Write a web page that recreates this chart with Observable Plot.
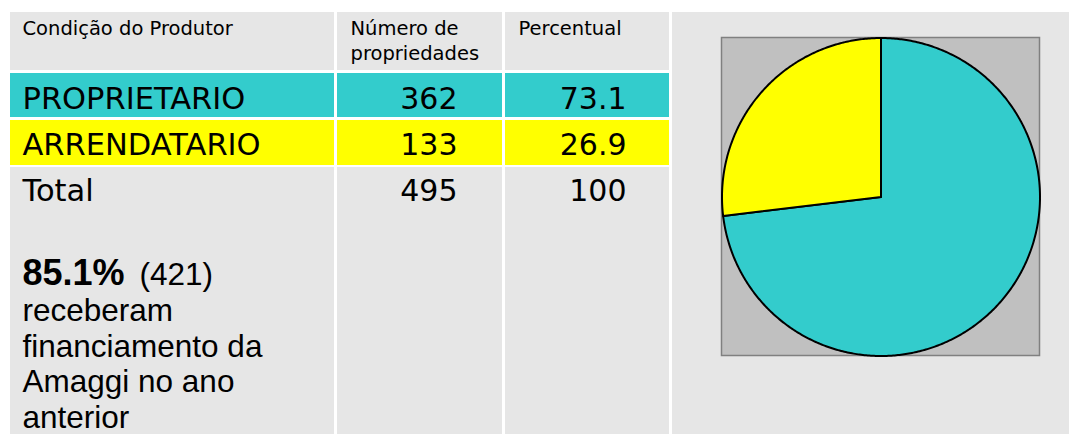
<!DOCTYPE html>
<html>
<head>
<meta charset="utf-8">
<script src="https://cdn.jsdelivr.net/npm/d3@7"></script>
<script src="https://cdn.jsdelivr.net/npm/@observablehq/plot@0.6"></script>
<style>
  html, body { margin: 0; padding: 0; background: #ffffff; }
  #chart svg { display: block; }
</style>
</head>
<body>
<div id="chart"></div>
<script>
// ---------------- DATA ----------------
const headers = ["Condição do Produtor", "Número de\npropriedades", "Percentual"];
const categories = ["PROPRIETARIO", "ARRENDATARIO"];
const counts = [362, 133];
const percents = [73.1, 26.9];
const totalLabel = "Total";
const totalCount = 495;
const totalPercent = 100;
const noteShare = "85.1%";
const noteCount = 421;
const noteLines = ["receberam", "financiamento da", "Amaggi no ano", "anterior"];

// ---------------- STYLES ----------------
const categoryColors = ["#33CCCC", "#FFFF00"];
const cellGray = "#E6E6E6";
const pieBoxFill = "#C0C0C0";
const pieBoxStroke = "#808080";
const tableFont = "DejaVu Sans";
const noteFont = "Liberation Sans, Arial, sans-serif";

// ---------------- LAYOUT ----------------
const W = 1069, H = 434;
const cols = [
  {x1: 10, x2: 334, textX: 22},
  {x1: 337, x2: 502, textX: 350, numX: 457},
  {x1: 505, x2: 669, textX: 518, numX: 626}
];
const headerFs = 19.5, headerLh = 1.3;
const headerRow = {y1: 12, y2: 70, baseline1: 34};
const bodyRows = [{y1: 73, y2: 117, baseline: 108}, {y1: 120, y2: 165, baseline: 154}];
const totalRow = {y1: 167, y2: 434, baseline: 200};
const pieCell = {x1: 672, x2: 1069, y1: 12, y2: 434};
const pie = {cx: 880.5, cy: 196.5, r: 159};
const noteFs = 31.5;
const note = {x: 22, countX: 139, baseline1: 284, lastBaseline: 427, lineStep: 35.5};

// ---------------- BUILD TABLES ----------------
const grayCells = [];
cols.forEach(c => {
  grayCells.push({x1: c.x1, x2: c.x2, y1: headerRow.y1, y2: headerRow.y2});
  grayCells.push({x1: c.x1, x2: c.x2, y1: totalRow.y1, y2: totalRow.y2});
});
grayCells.push({...pieCell});

const catCells = [];
categories.forEach((cat, i) => {
  cols.forEach(c => catCells.push({cat, x1: c.x1, x2: c.x2, y1: bodyRows[i].y1, y2: bodyRows[i].y2}));
});

// "top" line anchor puts the first baseline at 0.71 * lineHeight em below y
const headerTop = headerRow.baseline1 - 0.71 * headerLh * headerFs;
const headerTexts = headers.map((h, i) => ({text: h, x: cols[i].textX, y: headerTop}));

const labelTexts = categories.map((cat, i) => ({text: cat, x: cols[0].textX, y: bodyRows[i].baseline}))
  .concat([{text: totalLabel, x: cols[0].textX, y: totalRow.baseline}]);

const numberTexts = [];
categories.forEach((cat, i) => {
  numberTexts.push({text: String(counts[i]), x: cols[1].numX, y: bodyRows[i].baseline});
  numberTexts.push({text: percents[i].toFixed(1), x: cols[2].numX, y: bodyRows[i].baseline});
});
numberTexts.push({text: String(totalCount), x: cols[1].numX, y: totalRow.baseline});
numberTexts.push({text: String(totalPercent), x: cols[2].numX, y: totalRow.baseline});

// pie wedges from the percentages
const arcs = d3.pie().sort(null)(percents);
const wedgePts = [];
arcs.forEach((a, i) => {
  const cat = categories[i];
  const n = Math.max(2, Math.ceil((a.endAngle - a.startAngle) / 0.01));
  wedgePts.push({cat, x: pie.cx, y: pie.cy});
  for (let k = 0; k <= n; k++) {
    const ang = a.startAngle + (a.endAngle - a.startAngle) * k / n;
    wedgePts.push({cat, x: pie.cx + pie.r * Math.sin(ang), y: pie.cy - pie.r * Math.cos(ang)});
  }
  wedgePts.push({cat, x: pie.cx, y: pie.cy});
});

const pieBox = [{x1: pie.cx - pie.r, x2: pie.cx + pie.r, y1: pie.cy - pie.r, y2: pie.cy + pie.r}];

const chart = Plot.plot({
  width: W,
  height: H,
  margin: 0,
  x: {domain: [0, W], range: [0, W], axis: null},
  y: {domain: [0, H], range: [0, H], axis: null},
  color: {domain: categories, range: categoryColors},
  style: {background: "#ffffff", overflow: "hidden"},
  marks: [
    Plot.rect(grayCells, {x1: "x1", x2: "x2", y1: "y1", y2: "y2", fill: cellGray}),
    Plot.rect(catCells, {x1: "x1", x2: "x2", y1: "y1", y2: "y2", fill: "cat"}),
    Plot.rect(pieBox, {x1: "x1", x2: "x2", y1: "y1", y2: "y2", fill: pieBoxFill, stroke: pieBoxStroke, strokeWidth: 1.5}),
    Plot.line(wedgePts, {x: "x", y: "y", z: "cat", fill: "cat", stroke: "black", strokeWidth: 2, curve: "linear"}),
    Plot.text(headerTexts, {x: "x", y: "y", text: "text", textAnchor: "start", lineAnchor: "top",
      fontSize: headerFs, lineHeight: headerLh, fontFamily: tableFont, fill: "black"}),
    Plot.text(labelTexts, {x: "x", y: "y", text: "text", textAnchor: "start", lineAnchor: "bottom",
      fontSize: 30.5, fontFamily: tableFont, fill: "black"}),
    Plot.text(numberTexts, {x: "x", y: "y", text: "text", textAnchor: "end", lineAnchor: "bottom",
      fontSize: 30, fontFamily: tableFont, fill: "black"}),
    Plot.text([{text: noteShare}], {x: () => note.x, y: () => note.baseline1, text: "text", textAnchor: "start",
      lineAnchor: "bottom", fontSize: 36, fontWeight: "bold", fontFamily: noteFont, fill: "black"}),
    Plot.text([{text: `(${noteCount})`}], {x: () => note.countX, y: () => note.baseline1, text: "text", textAnchor: "start",
      lineAnchor: "bottom", fontSize: noteFs, fontFamily: noteFont, fill: "black"}),
    Plot.text([{text: noteLines.join("\n")}], {x: () => note.x, y: () => note.lastBaseline, text: "text", textAnchor: "start",
      lineAnchor: "bottom", fontSize: noteFs, lineHeight: note.lineStep / noteFs, fontFamily: noteFont, fill: "black"})
  ]
});

document.getElementById("chart").appendChild(chart);
</script>
</body>
</html>
